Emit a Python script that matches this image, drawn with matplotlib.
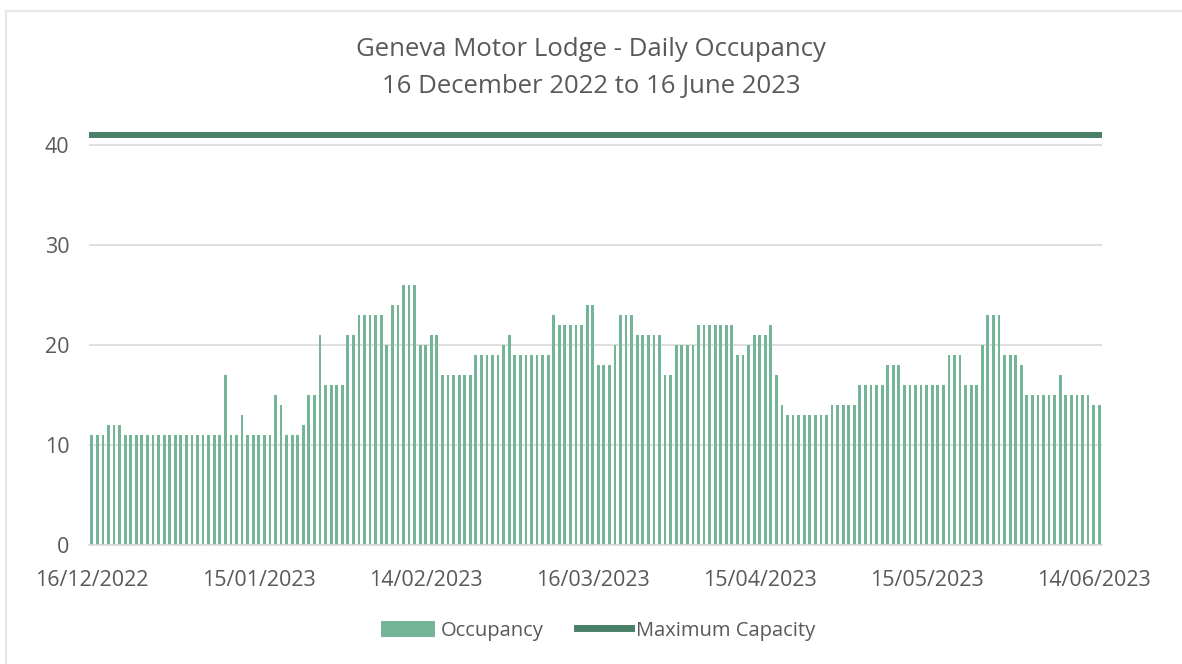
import numpy as np
import pandas as pd
import matplotlib
matplotlib.use("Agg")
import matplotlib.pyplot as plt
from matplotlib.patches import Patch
from matplotlib.lines import Line2D

# daily occupancy, 16/12/2022 onwards
occupancy = [
    11, 11, 11, 12, 12, 12,
    11, 11, 11, 11, 11, 11, 11, 11, 11, 11, 11, 11, 11, 11, 11, 11, 11, 11,
    17, 11, 11, 13, 11, 11, 11, 11, 11,
    15, 14, 11, 11, 11, 12, 15, 15, 21, 16, 16, 16, 16, 21, 21,
    23, 23, 23, 23, 23, 20, 24, 24, 26, 26, 26, 20, 20, 21, 21,
    17, 17, 17, 17, 17, 17, 19, 19, 19, 19, 19, 20, 21,
    19, 19, 19, 19, 19, 19, 19, 23, 22, 22, 22, 22, 22, 24, 24,
    18, 18, 18, 20, 23, 23, 23, 21, 21, 21, 21, 21, 17, 17,
    20, 20, 20, 20, 22, 22, 22, 22, 22, 22, 22, 19, 19, 20, 21, 21, 21, 22,
    17, 14, 13, 13, 13, 13, 13, 13, 13, 13, 14, 14, 14, 14, 14,
    16, 16, 16, 16, 16, 18, 18, 18, 16, 16, 16, 16, 16, 16, 16, 16,
    19, 19, 19, 16, 16, 16, 20, 23, 23, 23, 19, 19, 19, 18,
    15, 15, 15, 15, 15, 15, 17, 15, 15, 15, 15, 15, 14, 14,
]
start_date = "2022-12-16"
max_capacity = 41
y_ticks = [0, 10, 20, 30, 40]
tick_every = 30

dates = pd.date_range(start_date, periods=len(occupancy), freq="D")
x = np.arange(len(occupancy))

C_BAR = "#74b598"
C_LINE = "#4a8068"
C_TXT = "#595959"
C_GRID = "#d9d9d9"
FONT = "Open Sans"

plt.rcParams.update({"font.family": FONT})

fig = plt.figure(figsize=(11.82, 6.64), dpi=100)
ax = fig.add_axes([0.0753, 0.1792, 0.857, 0.622])

ax.bar(x, occupancy, width=0.5, color=C_BAR, zorder=2)
ax.axhline(max_capacity, color=C_LINE, lw=4.3, zorder=3, solid_capstyle="butt")

ax.set_xlim(-0.5, len(occupancy) - 0.5)
ax.set_ylim(0, 41.3)
ax.set_yticks(y_ticks)
ax.set_yticklabels([str(v) for v in y_ticks])
tick_pos = x[::tick_every]
ax.set_xticks(tick_pos)
ax.set_xticklabels([dates[i].strftime("%d/%m/%Y") for i in tick_pos])
ax.tick_params(axis="both", length=0, labelsize=15.5, colors=C_TXT)
ax.tick_params(axis="y", pad=14)
ax.tick_params(axis="x", pad=18)

ax.grid(axis="y", color=C_GRID, lw=1.2, zorder=0)
for s in ["top", "right", "left"]:
    ax.spines[s].set_visible(False)
ax.spines["bottom"].set_color(C_GRID)
ax.spines["bottom"].set_linewidth(1.2)

fig.text(0.5, 0.925, "Geneva Motor Lodge - Daily Occupancy", ha="center", va="center",
         fontsize=18.5, color=C_TXT)
fig.text(0.5, 0.870, "16 December 2022 to 16 June 2023", ha="center", va="center",
         fontsize=18.5, color=C_TXT)

handles = [Patch(facecolor=C_BAR, edgecolor="none", label="Occupancy"),
           Line2D([0], [0], color=C_LINE, lw=5, label="Maximum Capacity")]
fig.legend(handles=handles, loc="center", bbox_to_anchor=(0.506, 0.05), ncol=2,
           frameon=False, fontsize=14.5, labelcolor=C_TXT, handlelength=2.7,
           handleheight=0.9, handletextpad=0.25, columnspacing=1.65)

# light chart-area border (left and top only are in frame)
fig.add_artist(Line2D([6 / 1182, 6 / 1182], [0, 1 - 11 / 664], color="#e6e6e6", lw=1.5,
                      transform=fig.transFigure))
fig.add_artist(Line2D([6 / 1182, 1], [1 - 11 / 664, 1 - 11 / 664], color="#e6e6e6", lw=1.5,
                      transform=fig.transFigure))

fig.savefig("out.png", dpi=100)
